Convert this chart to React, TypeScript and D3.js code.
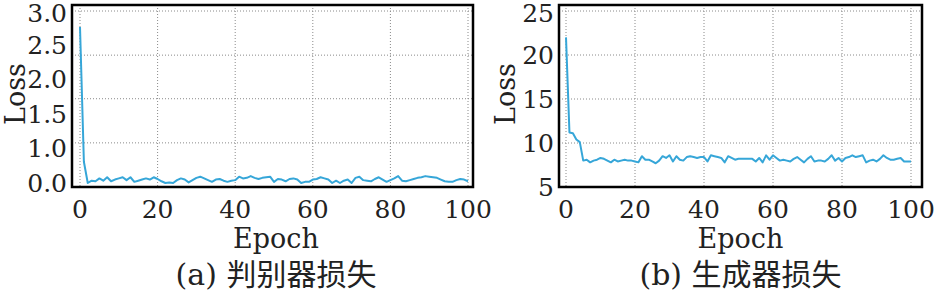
import React from "react";
import * as d3 from "d3";

// ---------- data ----------
const xTicks = [0, 20, 40, 60, 80, 100];

const discLoss = [
  2.72, 0.37, 0.0, 0.04, 0.03, 0.08, 0.04, 0.1, 0.03, 0.06,
  0.08, 0.1, 0.05, 0.1, 0.02, 0.04, 0.06, 0.08, 0.06, 0.1,
  0.07, 0.03, 0.0, 0.01, 0.0, 0.05, 0.08, 0.06, 0.01, 0.05,
  0.09, 0.11, 0.08, 0.05, 0.02, 0.06, 0.07, 0.04, 0.02, 0.04,
  0.05, 0.11, 0.08, 0.09, 0.12, 0.09, 0.07, 0.09, 0.1, 0.11,
  0.02, 0.07, 0.06, 0.03, 0.07, 0.08, 0.06, 0.0, 0.02, 0.02,
  0.06, 0.07, 0.1, 0.08, 0.06, 0.0, 0.04, 0.0, 0.04, 0.06,
  0.0, 0.09, 0.11, 0.05, 0.04, 0.03, 0.07, 0.1, 0.06, 0.02,
  0.05, 0.08, 0.12, 0.04, 0.03, 0.05, 0.07, 0.09, 0.1, 0.12,
  0.11, 0.1, 0.09, 0.06, 0.03, 0.02, 0.02, 0.05, 0.07, 0.06,
  0.03,
];

const genLoss = [
  22.0, 11.2, 11.1, 10.4, 10.1, 8.0, 8.1, 7.8, 8.0, 8.1,
  8.3, 8.2, 8.0, 7.8, 8.1, 7.9, 8.0, 8.1, 8.0, 8.0,
  7.9, 7.8, 8.5, 8.1, 8.1, 7.9, 7.7, 8.0, 8.5, 8.3,
  8.6, 7.9, 8.5, 8.1, 8.0, 8.4, 8.5, 8.4, 8.3, 8.4,
  8.4, 7.9, 8.6, 8.5, 8.4, 8.3, 7.8, 8.5, 8.3, 8.1,
  8.2, 8.2, 8.2, 8.2, 8.2, 7.9, 8.3, 7.8, 8.6, 8.1,
  8.6, 8.3, 8.0, 8.1, 8.0, 7.9, 8.2, 8.4, 8.1, 7.8,
  8.2, 8.5, 7.9, 8.0, 8.0, 7.9, 8.2, 8.6, 8.0, 8.3,
  7.9, 8.3, 8.4, 8.6, 8.4, 8.5, 8.6, 7.8, 8.0, 8.1,
  7.9, 8.2, 8.6, 8.3, 8.1, 8.1, 8.2, 8.3, 7.9, 7.9,
  7.9,
];

const discYTickValues = [3.0, 2.4, 1.8, 1.2, 0.6, 0.0];
const discYTickLabels = ["3.0", "2.5", "2.0", "1.5", "1.0", "0.0"];
const discGridY = [3.0, 2.23, 1.47, 0.7];

const genYTickValues = [25, 20, 15, 10, 5];
const genYTickLabels = ["25", "20", "15", "10", "5"];
const genGridY = [25, 20, 15, 10];

const captions = ["(a) 判别器损失", "(b) 生成器损失"];
const xTitle = "Epoch";
const yTitle = "Loss";

// ---------- styles ----------
const SERIF = "'DejaVu Serif', 'Noto Sans CJK SC', serif";
const LINE_COLOR = "#36a6d8";
const GRID_COLOR = "#8a8a8a";

type PanelProps = {
  data: number[];
  frame: { x0: number; x1: number; y0: number; y1: number };
  xRange: [number, number];
  yDomain: [number, number];
  yRange: [number, number];
  yTickValues: number[];
  yTickLabels: string[];
  gridY: number[];
  caption: string;
  yTitleX: number;
};

function Panel(p: PanelProps) {
  const x = d3.scaleLinear().domain([0, 100]).range(p.xRange);
  const y = d3.scaleLinear().domain(p.yDomain).range(p.yRange);
  const line = d3
    .line<number>()
    .x((_, i) => x(i))
    .y((d) => y(d));
  const { x0, x1, y0, y1 } = p.frame;
  const cx = (p.xRange[0] + p.xRange[1]) / 2;
  const cy = (y0 + y1) / 2 - 2;
  return (
    <g>
      {p.gridY.map((v, i) => (
        <line
          key={"gy" + i}
          x1={x0}
          x2={x1}
          y1={y(v)}
          y2={y(v)}
          stroke={GRID_COLOR}
          strokeWidth={1}
          strokeDasharray="1,2"
        />
      ))}
      {xTicks.map((v, i) => (
        <line
          key={"gx" + i}
          x1={x(v)}
          x2={x(v)}
          y1={y0}
          y2={y1}
          stroke={GRID_COLOR}
          strokeWidth={1}
          strokeDasharray="1,2"
        />
      ))}
      <path d={line(p.data) || ""} fill="none" stroke={LINE_COLOR} strokeWidth={2} strokeLinejoin="round" />
      <rect x={x0} y={y0} width={x1 - x0} height={y1 - y0} fill="none" stroke="#000" strokeWidth={2.5} />
      {p.yTickValues.map((v, i) => (
        <text
          key={"yl" + i}
          x={x0 - 5}
          y={Math.max(y(v), 13)}
          textAnchor="end"
          dominantBaseline="central"
          fontFamily={SERIF}
          fontSize={25}
          fill="#222"
        >
          {p.yTickLabels[i]}
        </text>
      ))}
      {xTicks.map((v, i) => (
        <text
          key={"xl" + i}
          x={x(v)}
          y={y1 + 31}
          textAnchor="middle"
          fontFamily={SERIF}
          fontSize={25}
          fill="#222"
        >
          {v}
        </text>
      ))}
      <text x={cx + 2} y={y1 + 61} textAnchor="middle" fontFamily={SERIF} fontSize={27} fill="#222">
        {xTitle}
      </text>
      <text
        transform={`translate(${p.yTitleX},${cy}) rotate(-90)`}
        textAnchor="middle"
        fontFamily={SERIF}
        fontSize={27}
        fill="#222"
      >
        {yTitle}
      </text>
      <text x={cx + 2} y={y1 + 98} textAnchor="middle" fontFamily={SERIF} fontSize={30} fill="#222">
        {p.caption}
      </text>
    </g>
  );
}

export default function App() {
  return (
    <svg
      width={938}
      height={296}
      viewBox="0 0 938 296"
      style={{ position: "absolute", left: 0, top: 0, background: "#fff" }}
    >
      <rect x={0} y={0} width={938} height={296} fill="#fff" />
      <Panel
        data={discLoss}
        frame={{ x0: 72, x1: 473, y0: 5, y1: 187 }}
        xRange={[80, 468]}
        yDomain={[0, 3]}
        yRange={[183, 11]}
        yTickValues={discYTickValues}
        yTickLabels={discYTickLabels}
        gridY={discGridY}
        caption={captions[0]}
        yTitleX={25}
      />
      <Panel
        data={genLoss}
        frame={{ x0: 559, x1: 922, y0: 5, y1: 187 }}
        xRange={[566, 911]}
        yDomain={[5, 25]}
        yRange={[187, 11]}
        yTickValues={genYTickValues}
        yTickLabels={genYTickLabels}
        gridY={genGridY}
        caption={captions[1]}
        yTitleX={515}
      />
    </svg>
  );
}
